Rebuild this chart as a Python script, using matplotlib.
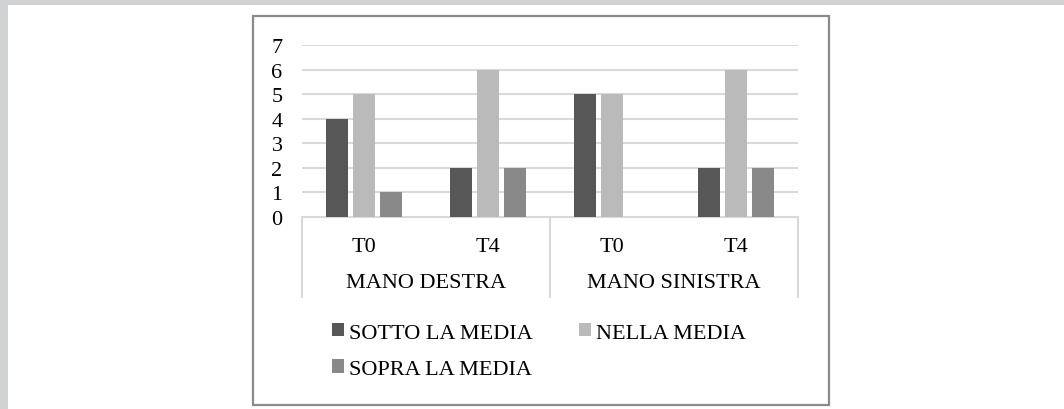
import matplotlib
matplotlib.use("Agg")
import matplotlib.pyplot as plt
from matplotlib.patches import Rectangle
from matplotlib.lines import Line2D
import numpy as np

# ---- data ----
groups = ["MANO DESTRA", "MANO SINISTRA"]
times = ["T0", "T4", "T0", "T4"]
series_names = ["SOTTO LA MEDIA", "NELLA MEDIA", "SOPRA LA MEDIA"]
sotto = [4, 2, 5, 2]
nella = [5, 6, 5, 6]
sopra = [1, 2, 0, 2]
colors = ["#575757", "#bababa", "#898989"]
yticks = [0, 1, 2, 3, 4, 5, 6, 7]

plt.rcParams['font.family'] = ['Liberation Serif', 'DejaVu Serif']
FS = 16

W, H = 1064, 410
fig = plt.figure(figsize=(W / 100, H / 100), dpi=100)
fig.patch.set_facecolor("white")

# page background strips (grey) and chart frame
fig.add_artist(Rectangle((0, 0), 8 / W, 1, transform=fig.transFigure, color="#d1d2d4", lw=0, zorder=0))
fig.add_artist(Rectangle((0, 1 - 5.5 / H), 1, 5.5 / H, transform=fig.transFigure, color="#d1d2d4", lw=0, zorder=0))
fig.add_artist(Rectangle((253 / W, 1 - 406 / H), (829 - 253) / W, (406 - 17) / H,
                         transform=fig.transFigure, fill=False, ec="#8a8a8a", lw=1.6, zorder=1))

x0, x1 = 302, 798
y0, y7 = 218, 46
ax = fig.add_axes([x0 / W, 1 - y0 / H, (x1 - x0) / W, (y0 - y7) / H])
ax.set_facecolor("none")
for s in ax.spines.values():
    s.set_visible(False)

n = len(times)
xc = np.arange(n) + 0.5
step = 0.218
bw = 0.17
bars = []
for i, (vals, c) in enumerate(zip([sotto, nella, sopra], colors)):
    v = np.array(vals, dtype=float)
    mask = v > 0
    b = ax.bar(xc[mask] + (i - 1) * step, v[mask], width=bw, color=c, zorder=3, label=series_names[i])
    bars.append(b)

ax.set_xlim(0, n)
ax.set_ylim(0, 7)
ax.set_yticks(yticks)
ax.set_yticklabels([str(t) for t in yticks], fontsize=FS)
ax.tick_params(axis="y", length=0, pad=14)
ax.set_xticks([])
for t in yticks[1:]:
    ax.axhline(t, color="#d9d9d9", lw=1.5, zorder=1)

# category table
tr = ax.get_xaxis_transform()
ppu = (y0 - y7)
ybot = -80 / ppu
ax.add_line(Line2D([0, n], [0, 0], transform=tr, color="#d9d9d9", lw=1.5, clip_on=False, zorder=2))
for xb in [0, n / 2, n]:
    ax.add_line(Line2D([xb, xb], [0, ybot], transform=tr, color="#d9d9d9", lw=1.5, clip_on=False))
for x, t in zip(xc, times):
    ax.text(x, -30 / ppu, t, transform=tr, ha="center", va="center", fontsize=FS)
for g, gx in zip(groups, [n / 4, 3 * n / 4]):
    ax.text(gx, -66 / ppu, g, transform=tr, ha="center", va="center", fontsize=FS)

# legend: row-major order (sotto, nella / sopra)
order = [0, 2, 1]
leg = fig.legend([bars[i] for i in order], [series_names[i] for i in order], ncol=2, loc="upper left",
                 bbox_to_anchor=(332 / W, 1 - 324 / H), frameon=False, fontsize=FS,
                 handlelength=0.55, handleheight=0.55, handletextpad=0.2,
                 columnspacing=2.1, labelspacing=0.75, borderpad=0, borderaxespad=0)

fig.savefig("out.png", dpi=100)
